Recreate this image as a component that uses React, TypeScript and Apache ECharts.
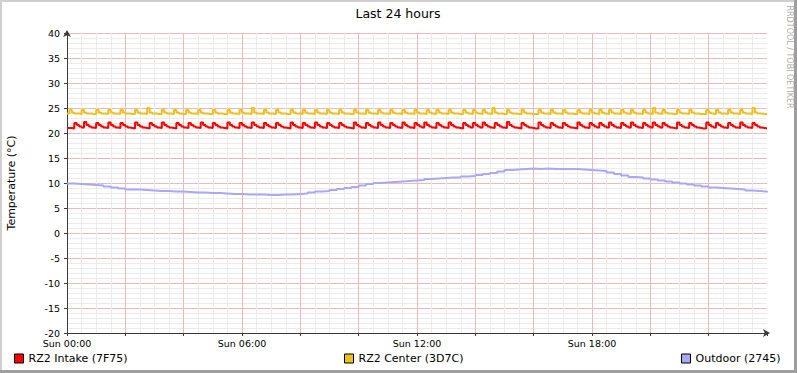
import React, { useEffect, useRef } from "react";
import * as echarts from "echarts";

// ---- data -------------------------------------------------------------
const SERIES_NAMES = ["RZ2 Intake (7F75)", "RZ2 Center (3D7C)", "Outdoor (2745)"];
const X_LABELS = ["Sun 00:00", "Sun 06:00", "Sun 12:00", "Sun 18:00"];
const TITLE = "Last 24 hours";
const Y_NAME = "Temperature (°C)";
const WATERMARK = "RRDTOOL / TOBI OETIKER";

const STEP_FINE = 5;
const STEP_OUTDOOR = 15;

const INTAKE = [
  21.0, 21.0, 20.9, 22.0, 21.6, 21.3, 21.1, 22.2, 21.6, 21.3, 21.1, 21.0,
  22.0, 21.6, 21.3, 21.1, 21.0, 22.1, 21.6, 21.3, 21.1, 21.0, 22.0, 21.6,
  21.3, 21.1, 21.0, 20.9, 22.1, 21.6, 21.3, 21.1, 21.0, 20.9, 22.0, 21.6,
  21.3, 21.1, 21.0, 22.1, 21.6, 21.3, 21.1, 21.0, 20.9, 22.0, 21.6, 21.3,
  21.1, 21.0, 22.0, 21.6, 21.3, 21.1, 21.0, 22.1, 21.6, 21.3, 21.1, 21.0,
  22.0, 21.6, 21.3, 21.1, 21.0, 20.9, 22.1, 21.6, 21.3, 21.1, 21.0, 22.0,
  21.6, 21.3, 21.1, 21.0, 22.1, 21.6, 21.3, 21.1, 21.0, 22.0, 21.6, 21.3,
  21.1, 21.0, 22.0, 21.6, 21.3, 21.1, 21.0, 20.9, 22.1, 21.6, 21.3, 21.1,
  21.0, 22.0, 21.6, 21.3, 21.1, 21.0, 22.1, 21.6, 21.3, 21.1, 21.0, 22.0,
  21.6, 21.3, 21.1, 21.0, 22.0, 21.6, 21.3, 21.1, 21.0, 20.9, 22.1, 21.6,
  21.3, 21.1, 21.0, 22.0, 21.6, 21.3, 21.1, 21.0, 22.1, 21.6, 21.3, 21.1,
  21.0, 22.0, 21.6, 21.3, 21.1, 21.0, 22.1, 21.6, 21.3, 21.1, 21.0, 22.0,
  21.6, 21.3, 21.1, 22.1, 21.6, 21.3, 21.1, 21.0, 22.0, 21.6, 21.3, 21.1,
  21.0, 22.1, 21.6, 21.3, 21.1, 21.0, 20.9, 22.0, 21.6, 21.3, 21.1, 22.0,
  21.6, 21.3, 21.1, 22.1, 21.6, 21.3, 21.1, 21.0, 22.0, 21.6, 21.3, 21.1,
  21.0, 22.2, 21.6, 21.3, 21.1, 21.0, 20.9, 22.0, 21.6, 21.3, 21.1, 21.0,
  20.9, 20.9, 22.1, 21.6, 21.3, 21.1, 21.0, 22.0, 21.6, 21.3, 21.1, 21.0,
  22.0, 21.6, 21.3, 21.1, 21.0, 20.9, 22.1, 21.6, 21.3, 21.1, 21.0, 22.0,
  21.6, 21.3, 21.1, 22.0, 21.6, 21.3, 21.1, 22.1, 21.6, 21.3, 21.1, 21.0,
  22.0, 21.6, 21.3, 21.1, 22.1, 21.6, 21.3, 21.1, 21.0, 22.0, 21.6, 21.3,
  21.1, 22.1, 21.6, 21.3, 21.1, 22.0, 21.6, 21.3, 21.1, 21.0, 20.9, 22.1,
  21.6, 21.3, 21.1, 21.0, 22.0, 21.6, 21.3, 21.1, 21.0, 20.9, 20.9, 22.1,
  21.6, 21.3, 21.1, 22.0, 21.6, 21.3, 21.1, 21.0, 22.0, 21.6, 21.3, 21.1,
  21.0, 22.1, 21.6, 21.3, 21.1, 21.0, 22.0, 21.6, 21.3, 21.1, 21.0, 20.9,
  20.9,
];

const CENTER = [
  23.9, 24.6, 24.1, 23.9, 23.9, 23.8, 24.6, 24.1, 23.9, 23.9, 23.8, 23.8,
  24.6, 24.1, 23.9, 23.9, 23.8, 24.6, 24.1, 23.9, 23.9, 23.8, 24.6, 24.1,
  23.9, 23.9, 23.8, 23.8, 24.6, 24.1, 23.9, 23.9, 23.8, 25.0, 24.1, 23.9,
  23.9, 23.8, 23.8, 24.6, 24.1, 23.9, 23.9, 23.8, 24.6, 24.1, 23.9, 23.8,
  23.8, 24.6, 24.1, 23.9, 23.9, 23.8, 24.6, 24.1, 23.9, 23.9, 23.8, 23.8,
  24.6, 24.1, 23.9, 23.9, 23.8, 23.8, 24.6, 24.1, 23.9, 23.9, 23.8, 24.6,
  24.1, 23.9, 23.9, 23.8, 25.0, 24.1, 23.9, 23.9, 23.8, 24.6, 24.1, 23.9,
  23.9, 23.8, 24.6, 24.1, 23.9, 23.9, 23.8, 23.8, 24.6, 24.1, 23.9, 23.9,
  23.8, 24.6, 24.1, 23.9, 23.9, 23.8, 24.6, 24.1, 23.9, 23.9, 23.8, 24.6,
  24.1, 23.9, 23.9, 23.8, 24.6, 24.1, 23.9, 23.9, 23.8, 23.8, 24.6, 24.1,
  23.9, 23.9, 23.8, 24.6, 24.1, 23.9, 23.9, 23.8, 24.6, 24.1, 23.9, 23.9,
  23.8, 24.6, 24.1, 23.9, 23.9, 23.8, 24.6, 24.1, 23.9, 23.9, 23.8, 24.6,
  24.1, 23.9, 23.9, 23.8, 24.6, 24.1, 23.9, 23.8, 24.6, 24.1, 23.9, 23.9,
  23.8, 24.6, 24.1, 23.9, 23.9, 23.8, 23.8, 24.6, 24.1, 23.9, 23.8, 24.6,
  24.1, 23.9, 23.8, 24.6, 24.1, 23.9, 23.8, 25.0, 24.1, 23.9, 23.9, 23.8,
  23.8, 24.6, 24.1, 23.9, 23.9, 23.8, 23.8, 24.6, 24.1, 23.9, 23.9, 23.8,
  23.8, 23.8, 24.6, 24.1, 23.9, 23.9, 23.8, 24.6, 24.1, 23.9, 23.9, 23.8,
  24.6, 24.1, 23.9, 23.9, 23.8, 23.8, 24.6, 24.1, 23.9, 23.9, 23.8, 24.6,
  24.1, 23.9, 23.8, 24.6, 24.1, 23.9, 23.8, 24.6, 24.1, 23.9, 23.9, 23.8,
  24.6, 24.1, 23.9, 23.8, 24.6, 24.1, 23.9, 23.9, 23.8, 24.6, 24.1, 23.9,
  23.8, 25.0, 24.1, 23.9, 23.8, 24.6, 24.1, 23.9, 23.9, 23.8, 23.8, 24.6,
  24.1, 23.9, 23.9, 23.8, 24.6, 24.1, 23.9, 23.9, 23.8, 23.8, 23.8, 24.6,
  24.1, 23.9, 23.8, 24.6, 24.1, 23.9, 23.9, 23.8, 24.6, 24.1, 23.9, 23.9,
  23.8, 24.6, 24.1, 23.9, 23.9, 23.8, 25.0, 24.1, 23.9, 23.9, 23.8, 23.8,
  23.8,
];

const OUTDOOR = [
  9.9, 9.8, 9.7, 9.6, 9.5, 9.3, 9.1, 8.9, 8.7, 8.7, 8.6, 8.5,
  8.4, 8.4, 8.3, 8.3, 8.2, 8.1, 8.1, 8.0, 8.0, 7.9, 7.8, 7.8,
  7.7, 7.7, 7.7, 7.6, 7.6, 7.7, 7.7, 7.8, 7.9, 8.1, 8.3, 8.4,
  8.6, 8.8, 9.0, 9.2, 9.5, 9.8, 10.0, 10.1, 10.2, 10.3, 10.4, 10.5,
  10.6, 10.8, 10.9, 11.0, 11.1, 11.1, 11.3, 11.4, 11.6, 11.8, 12.0, 12.3,
  12.6, 12.7, 12.8, 12.9, 12.8, 12.9, 12.8, 12.8, 12.8, 12.8, 12.7, 12.6,
  12.5, 12.4, 12.1, 11.8, 11.5, 11.2, 11.1, 10.9, 10.7, 10.5, 10.3, 10.1,
  9.9, 9.7, 9.5, 9.3, 9.1, 9.0, 8.9, 8.8, 8.7, 8.5, 8.4, 8.3,
  8.1,
];

const COLORS = ["#FF0000", "#EAC11E", "#A8A8F4"];
const FONT = "DejaVu Sans";

export default function App() {
  const ref = useRef<HTMLDivElement>(null);

  useEffect(() => {
    document.body.style.margin = "0";
    if (!ref.current) return;
    const chart = echarts.init(ref.current, null, { renderer: "svg" });

    const axisColor = "#3A3A3A";
    const majorGrid = { color: "#F2B8B8", type: "solid", width: 1 };
    const minorGrid = { color: "#EBEBEB", type: "solid", width: 1 };

    const makeSeries = (name: string, values: number[], step: number, color: string) => ({
      type: "line",
      name,
      data: values.map((v, i) => [i * step, v]),
      step: "end",
      showSymbol: false,
      symbol: "none",
      lineStyle: { color, width: 2 },
      itemStyle: { color },
      animation: false,
      z: 5,
    });

    const legendBase = {
      icon: "rect",
      itemWidth: 9,
      itemHeight: 9,
      padding: 0,
      itemGap: 0,
      top: 353,
      selectedMode: false,
      itemStyle: { borderColor: "#000", borderWidth: 1 },
      textStyle: { fontSize: 11, fontFamily: FONT, color: "#000" },
    };

    chart.setOption({
      animation: false,
      backgroundColor: "#FFFFFF",
      grid: { left: 67, right: 30, top: 33, bottom: 40, containLabel: false },
      xAxis: {
        type: "value",
        min: 0,
        max: 1440,
        interval: 120,
        axisLine: {
          show: true,
          onZero: false,
          symbol: ["none", "arrow"],
          symbolSize: [6, 7],
          symbolOffset: [0, 3],
          lineStyle: { color: axisColor, width: 1 },
        },
        axisTick: { show: true, length: 3, lineStyle: { color: axisColor } },
        axisLabel: {
          margin: 5,
          fontSize: 9.5,
          fontFamily: FONT,
          color: "#000",
          hideOverlap: false,
          formatter: (v: number) => (v % 360 === 0 && v < 1440 ? X_LABELS[v / 360] : ""),
        },
        splitLine: { show: true, showMaxLine: false, showMinLine: false, lineStyle: majorGrid },
        minorTick: { show: false, splitNumber: 4 },
        minorSplitLine: { show: true, lineStyle: minorGrid },
      },
      yAxis: {
        type: "value",
        min: -20,
        max: 40,
        interval: 5,
        axisLine: {
          show: true,
          onZero: false,
          symbol: ["none", "arrow"],
          symbolSize: [6, 7],
          symbolOffset: [0, 3],
          lineStyle: { color: axisColor, width: 1 },
        },
        axisTick: { show: true, length: 3, lineStyle: { color: axisColor } },
        axisLabel: { margin: 7, fontSize: 9.5, fontFamily: FONT, color: "#000" },
        splitLine: { show: true, showMinLine: false, lineStyle: majorGrid },
        minorTick: { show: false, splitNumber: 5 },
        minorSplitLine: { show: true, lineStyle: minorGrid },
      },
      legend: [
        { ...legendBase, left: 14, data: [SERIES_NAMES[0]] },
        { ...legendBase, left: 344, data: [SERIES_NAMES[1]] },
        { ...legendBase, left: 681, data: [SERIES_NAMES[2]] },
      ],
      series: [
        makeSeries(SERIES_NAMES[0], INTAKE, STEP_FINE, COLORS[0]),
        makeSeries(SERIES_NAMES[1], CENTER, STEP_FINE, COLORS[1]),
        makeSeries(SERIES_NAMES[2], OUTDOOR, STEP_OUTDOOR, COLORS[2]),
      ],
      graphic: [
        { type: "rect", shape: { x: 0, y: 0, width: 797, height: 2 }, style: { fill: "#CFCFCF" }, silent: true },
        { type: "rect", shape: { x: 0, y: 0, width: 2, height: 373 }, style: { fill: "#CFCFCF" }, silent: true },
        { type: "rect", shape: { x: 0, y: 370, width: 797, height: 3 }, style: { fill: "#9E9E9E" }, silent: true },
        { type: "rect", shape: { x: 794, y: 0, width: 3, height: 373 }, style: { fill: "#9E9E9E" }, silent: true },
        {
          type: "text",
          x: 398,
          y: 13,
          style: { text: TITLE, fontSize: 12.5, fontFamily: FONT, fill: "#000", align: "center", verticalAlign: "middle" },
        },
        {
          type: "text",
          x: 11,
          y: 183,
          rotation: Math.PI / 2,
          style: { text: Y_NAME, fontSize: 11, fontFamily: FONT, fill: "#000", align: "center", verticalAlign: "middle" },
        },
        {
          type: "text",
          x: 789,
          y: 57,
          rotation: -Math.PI / 2,
          style: { text: WATERMARK, fontSize: 8, fontFamily: FONT, fill: "#ADADAD", align: "center", verticalAlign: "middle" },
        },
      ],
    });

    return () => chart.dispose();
  }, []);

  return <div ref={ref} style={{ position: "absolute", left: 0, top: 0, width: 797, height: 373 }} />;
}
